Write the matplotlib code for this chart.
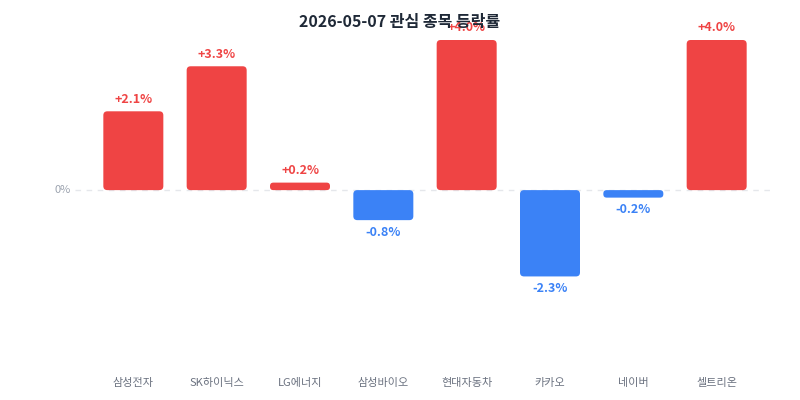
import matplotlib.pyplot as plt
from matplotlib.patches import FancyBboxPatch

plt.rcParams["font.family"] = ["Noto Sans CJK KR", "DejaVu Sans"]

title = "2026-05-07 관심 종목 등락률"
names = ["삼성전자", "SK하이닉스", "LG에너지", "삼성바이오", "현대자동차", "카카오", "네이버", "셀트리온"]
changes = [2.1, 3.3, 0.2, -0.8, 4.0, -2.3, -0.2, 4.0]

red = "#ef4444"
blue = "#3b82f6"

fig = plt.figure(figsize=(8, 4), dpi=100)
ax = fig.add_axes([75 / 800, 1 - 359 / 400, 700 / 800, 319 / 400])
ax.set_xlim(-0.7, 7.7)
ax.set_ylim(-4.5, 4.0)

width = 0.72
px_x = 8.4 / 700
px_y = 8.5 / 319
for i, v in enumerate(changes):
    color = red if v >= 0 else blue
    h = abs(v)
    y0 = 0 if v >= 0 else v
    r = min(4 * px_x, h / px_y * px_x / 2 * 0.9)
    patch = FancyBboxPatch((i - width / 2, y0), width, h,
                           boxstyle=f"round,pad=0,rounding_size={r}",
                           mutation_aspect=px_y / px_x,
                           facecolor=color, edgecolor="none", zorder=3)
    ax.add_patch(patch)
    label = f"{v:+.1f}%"
    if v >= 0:
        ax.annotate(label, (i, v), xytext=(0, 4), textcoords="offset points",
                    ha="center", va="bottom", color=red, fontsize=9, fontweight="bold")
    else:
        ax.annotate(label, (i, v), xytext=(0, -4), textcoords="offset points",
                    ha="center", va="top", color=blue, fontsize=9, fontweight="bold")

ax.axhline(0, color="#e5e7eb", lw=1, ls=(0, (4, 4)), zorder=1)
ax.text(-0.75, 0, "0%", ha="right", va="center", color="#9ca3af", fontsize=8)

ax.set_xticks(range(len(names)))
ax.set_xticklabels(names, fontsize=8, color="#6b7280")
ax.tick_params(axis="x", length=0, pad=14)
ax.set_yticks([])
for s in ax.spines.values():
    s.set_visible(False)

fig.text(0.5, 1 - 22 / 400, title, ha="center", va="center",
         fontsize=11.5, fontweight="bold", color="#1f2937")

fig.savefig("out.png", dpi=100)
